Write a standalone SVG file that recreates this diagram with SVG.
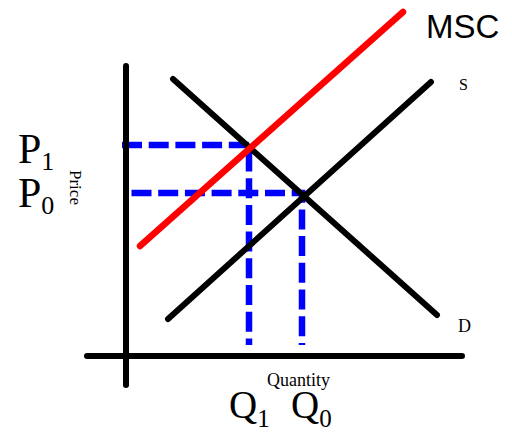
<svg xmlns="http://www.w3.org/2000/svg" width="512" height="440" viewBox="0 0 512 440">
<style>
.ax{stroke:#000;stroke-width:6;stroke-linecap:round;fill:none}
.curve{stroke:#000;stroke-width:6;stroke-linecap:round;fill:none}
.msc{stroke:#ff0000;stroke-width:6.5;stroke-linecap:round;fill:none}
.dash{stroke:#0000ff;stroke-width:6.5;stroke-dasharray:20 6.7;fill:none}
.serif{font-family:"Liberation Serif","Times New Roman",serif;fill:#000}
.sans{font-family:"Liberation Sans",Arial,sans-serif;fill:#000}
</style>
<rect width="512" height="440" fill="#fff"/>
<g id="connectors">
<path class="dash" d="M122 145H249V345"/>
<path class="dash" d="M131.5 193H302V345"/>
</g>
<g id="axes">
<line class="ax" x1="126" y1="66" x2="126" y2="385"/>
<line class="ax" x1="87" y1="356" x2="462" y2="356"/>
</g>
<g id="demand">
<line class="curve" x1="173" y1="79" x2="437" y2="315"/>
<text class="serif" x="458" y="332" font-size="18">D</text>
</g>
<g id="supply">
<line class="curve" x1="168" y1="319" x2="431" y2="82"/>
<text class="serif" x="459" y="90" font-size="16">S</text>
</g>
<g id="msc">
<line class="msc" x1="140" y1="246" x2="403" y2="12"/>
<text class="sans" x="426" y="38" font-size="33">MSC</text>
</g>
<g id="labels">
<text class="serif" x="18" y="163" font-size="42">P<tspan font-size="26" dy="7">1</tspan></text>
<text class="serif" x="18" y="207" font-size="42">P<tspan font-size="26" dy="7">0</tspan></text>
<text class="serif" font-size="17" transform="translate(70,170) rotate(90)">Price</text>
<text class="serif" x="267" y="386" font-size="18">Quantity</text>
<text class="serif" x="229" y="418" font-size="39">Q<tspan font-size="25" dy="9">1</tspan></text>
<text class="serif" x="291" y="418" font-size="39">Q<tspan font-size="25" dy="9">0</tspan></text>
</g>
</svg>
